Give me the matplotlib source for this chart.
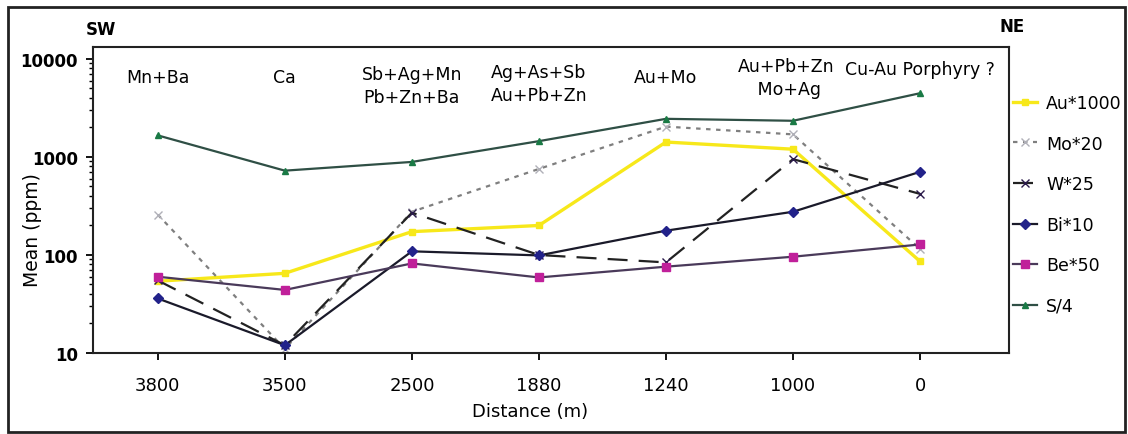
import matplotlib.pyplot as plt
from matplotlib.patches import Rectangle

plt.rcParams['font.family'] = ['DejaVu Sans']

distances = ["3800", "3500", "2500", "1880", "1240", "1000", "0"]
zones = ["Mn+Ba", "Ca", "Sb+Ag+Mn\nPb+Zn+Ba", "Ag+As+Sb\nAu+Pb+Zn",
         "Au+Mo", "Au+Pb+Zn\n Mo+Ag", "Cu-Au Porphyry ?"]
# where each zone label sits (x in categories, y in axes fraction)
zone_x = [0, 1, 2, 3, 4, 4.95, 6]
zone_y = [0.902, 0.902, 0.873, 0.882, 0.902, 0.899, 0.928]

au_1000 = [54, 65, 173, 200, 1420, 1200, 86]
mo_20 = [258, 11, 276, 755, 2040, 1700, 115]
w_25 = [55, 12, 270, 100, 84, 950, 420]
bi_10 = [36, 12, 109, 99, 177, 276, 705]
be_50 = [60, 44, 82, 59, 76, 96, 128]
s_4 = [1660, 725, 890, 1450, 2450, 2340, 4470]

fig = plt.figure(figsize=(11.28, 4.35), dpi=100)
ax = fig.add_axes([93 / 1128, 81 / 435, 916 / 1128, 306 / 435])
x = range(len(distances))

ax.plot(x, au_1000, color="#f7e81a", lw=2.4, marker="s", ms=5, label="Au*1000")
ax.plot(x, mo_20, color="#7f7f7f", lw=1.6, ls=(0, (2, 2.5)), marker="x", ms=6,
        mec="#b0b0b8", label="Mo*20")
ax.plot(x, w_25, color="#222222", lw=1.6, ls=(0, (9, 5)), marker="x", ms=6,
        mec="#2a1a4a", label="W*25")
ax.plot(x, bi_10, color="#1a1a2a", lw=1.6, marker="D", ms=5, mfc="#22228a",
        mec="#22228a", label="Bi*10")
ax.plot(x, be_50, color="#4a3a5a", lw=1.6, marker="s", ms=6, mfc="#c0209a",
        mec="#c0209a", label="Be*50")
ax.plot(x, s_4, color="#2f4f45", lw=1.6, marker="^", ms=5, mfc="#1a7a45",
        mec="#1a7a45", label="S/4")

ax.set_yscale("log")
ax.set_ylim(10, 13240)
ax.set_xlim(-0.51, 6.70)
ax.set_xticks(list(x))
ax.set_xticklabels(distances, fontsize=13)
ax.set_yticks([10, 100, 1000, 10000])
ax.set_yticklabels(["10", "100", "1000", "10000"], fontsize=12, fontweight="bold")
ax.tick_params(axis="x", length=5, width=1.3, pad=11.5)
ax.tick_params(axis="y", which="major", length=5, width=1.3, pad=6)
ax.tick_params(axis="y", which="minor", length=3, width=1.0)
ax.set_xlabel("Distance (m)", fontsize=13)
ax.xaxis.set_label_coords(0.477, -0.16)
ax.set_ylabel("Mean (ppm)", fontsize=13.5)
ax.yaxis.set_label_coords(-0.0557, 0.405)
for sp in ax.spines.values():
    sp.set_linewidth(1.5)
    sp.set_color("#222222")

for i, z in enumerate(zones):
    ax.text(zone_x[i], zone_y[i], z, transform=ax.get_xaxis_transform(),
            ha="center", va="center", fontsize=12.5, linespacing=1.35)

fig.text(101 / 1128, 1 - 30 / 435, "SW", fontsize=12, fontweight="bold",
         ha="center", va="center")
fig.text(1012 / 1128, 1 - 27 / 435, "NE", fontsize=12, fontweight="bold",
         ha="center", va="center")

fig.legend(loc="upper left", bbox_to_anchor=(1013 / 1128, 1 - 95 / 435),
           frameon=False, fontsize=12.5, handlelength=1.4, labelspacing=1.3,
           handletextpad=0.5, borderpad=0, borderaxespad=0)

fig.patches.append(Rectangle((8 / 1128, 2 / 435), 1117 / 1128, 425 / 435,
                             transform=fig.transFigure, fill=False,
                             lw=2, ec="#222222"))

fig.savefig("out.png")
